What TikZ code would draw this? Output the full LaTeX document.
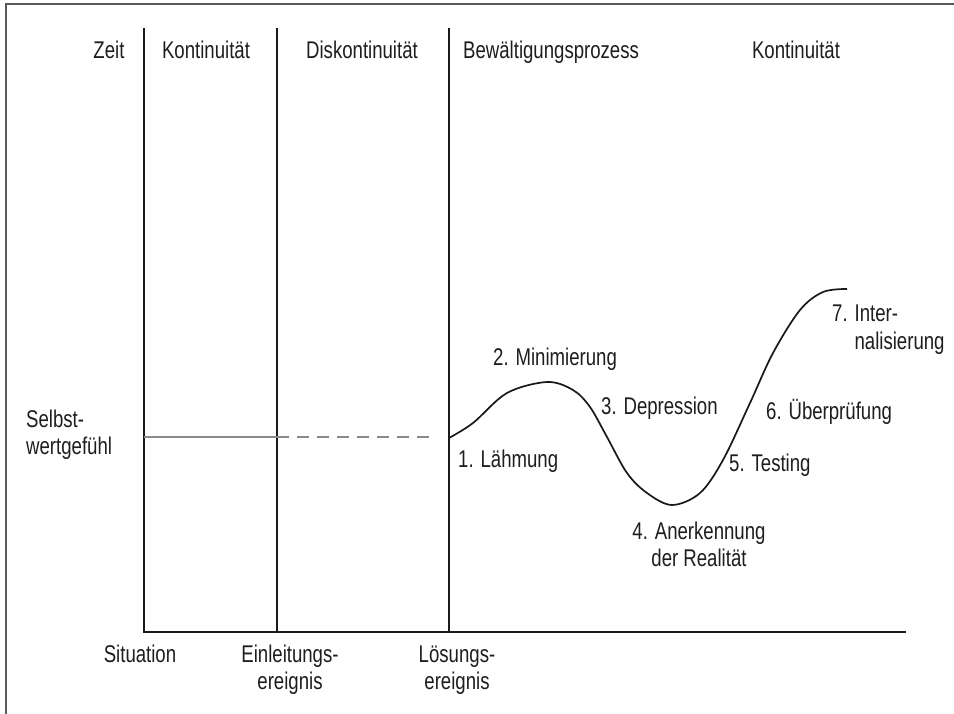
\documentclass[tikz,border=0pt]{standalone}
\usepackage{fontspec}
\setmainfont{Liberation Sans}
\usepackage{graphicx}
\newcommand{\vtxt}[1]{\scalebox{1}[1.3]{#1}}
\newcommand{\twol}[3]{\vtxt{\begin{tabular}[t]{@{}#1@{}}#2\\#3\end{tabular}}}
\definecolor{txt}{HTML}{1E1E1E}
\definecolor{frm}{HTML}{5A5A5A}
\definecolor{lvl}{HTML}{8A8A8A}
\begin{document}
\begin{tikzpicture}[x=1pt,y=-1pt,
  lbl/.style={inner sep=0pt, text=txt, font=\fontsize{18.6}{21.4}\selectfont},
  axisline/.style={line width=2.3pt, draw=black!90},
  levelline/.style={line width=1.1pt, draw=lvl},
  curveline/.style={line width=1.7pt, draw=black!90, line join=round}]
\useasboundingbox (0,0) rectangle (954,714);
\fill[white] (0,0) rectangle (954,714);
% frame (cropped at right and bottom)
\draw[frm, line width=1.4pt] (6,714) -- (6,4) -- (954,4);

% coordinates
\coordinate (v1t) at (144,28);
\coordinate (v1b) at (144,632);
\coordinate (v2t) at (277,28);
\coordinate (v2b) at (277,632);
\coordinate (v3t) at (449,28);
\coordinate (v3b) at (449,632);
\coordinate (xend) at (906,632);
\coordinate (l0) at (144,437);
\coordinate (l1) at (277,437);
\coordinate (l2) at (436,437);

% axes and separators
\draw[axisline] (v1t) -- (v1b) -- (xend);
\draw[axisline] (v2t) -- (v2b);
\draw[axisline] (v3t) -- (v3b);

% self-esteem level
\draw[levelline] (l0) -- (l1);
\draw[levelline, dash pattern=on 12pt off 8pt] (l1) -- (l2);

% coping curve
\draw[curveline] plot[smooth, tension=0.55] coordinates {
 (449,438) (473,423) (507,393) (547,382) (573,390) (590,407) (607,437)
 (627,473) (647,493) (672,505) (700,493) (723,460) (750,403) (773,353)
 (800,310) (823,292) (847,289)};

% top labels
\node[lbl, anchor=base] (zeit) at (109,59) {\vtxt{Zeit}};
\node[lbl, anchor=base] (kont1) at (206,59) {\vtxt{Kontinuität}};
\node[lbl, anchor=base] (diskont) at (362,59) {\vtxt{Diskontinuität}};
\node[lbl, anchor=base west] (bew) at (463,59) {\vtxt{Bewältigungsprozess}};
\node[lbl, anchor=base] (kont2) at (796,59) {\vtxt{Kontinuität}};

% y label
\node[lbl, anchor=base west] (selbst) at (26,427) {\twol{l}{Selbst-}{wertgefühl}};

% x labels
\node[lbl, anchor=base] (sit) at (140,662) {\vtxt{Situation}};
\node[lbl, anchor=base] (einl) at (290,662) {\twol{c}{Einleitungs-}{ereignis}};
\node[lbl, anchor=base] (loes) at (457,662) {\twol{c}{Lösungs-}{ereignis}};

% phase labels
\node[lbl, anchor=base west] (p1) at (458,467) {\vtxt{1. Lähmung}};
\node[lbl, anchor=base west] (p2) at (493,366) {\vtxt{2. Minimierung}};
\node[lbl, anchor=base west] (p3) at (601,414) {\vtxt{3. Depression}};
\node[lbl, anchor=base] (p4) at (699,539) {\twol{c}{4. Anerkennung}{der Realität}};
\node[lbl, anchor=base west] (p5) at (729,471) {\vtxt{5. Testing}};
\node[lbl, anchor=base west] (p6) at (766,419) {\vtxt{6. Überprüfung}};
\node[lbl, anchor=base west] (p7) at (832,322) {\twol{l}{7. Inter-}{\hphantom{7. }nalisierung}};
\end{tikzpicture}
\end{document}
